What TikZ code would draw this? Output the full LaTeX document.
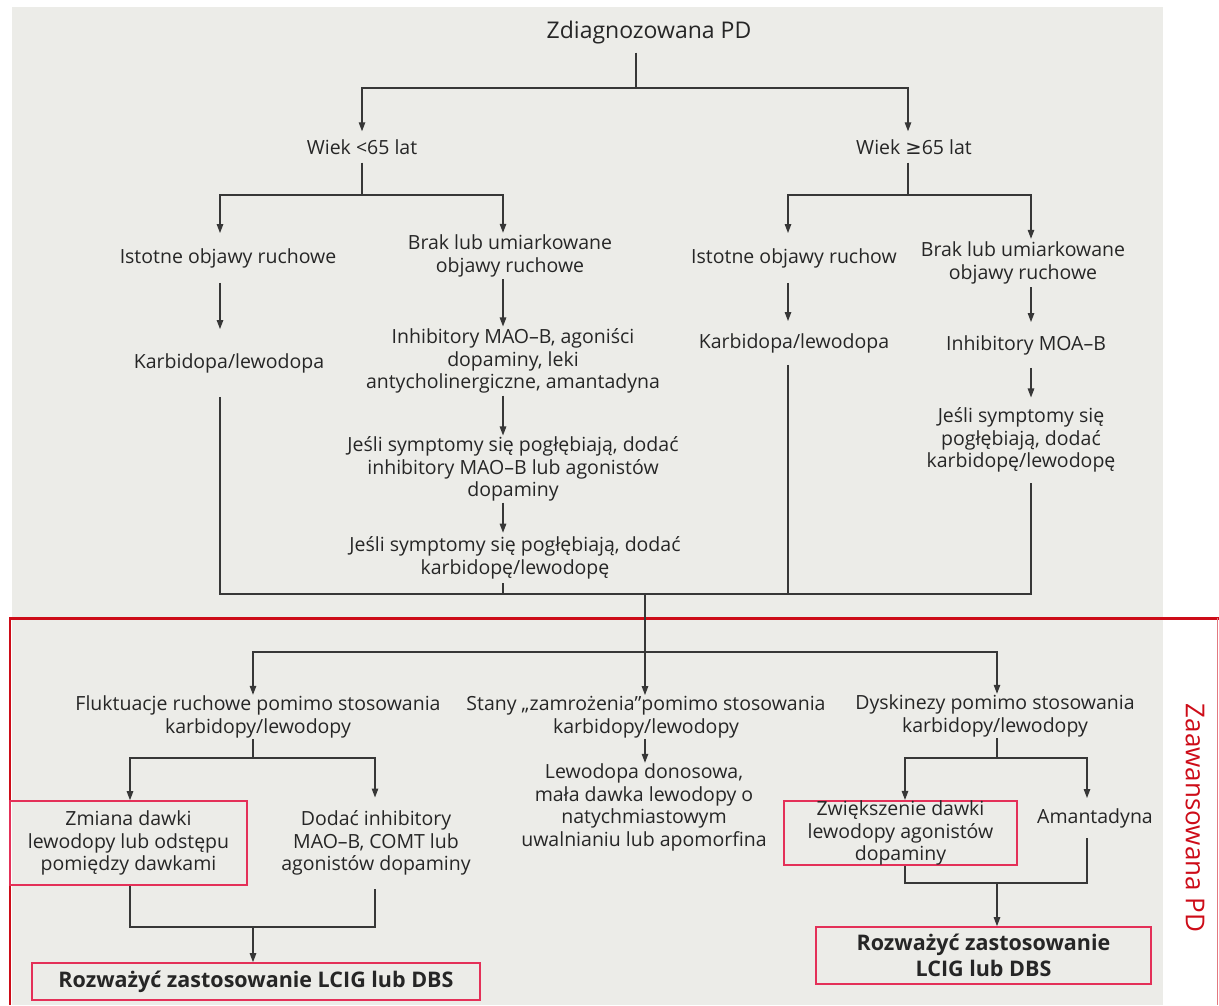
\documentclass[tikz,border=0pt]{standalone}
\usepackage{fontspec}
\setmainfont{Open Sans}
\newfontfamily\symfont{DejaVu Sans}
\usepackage{xcolor}
\usepackage{tikz}
\usetikzlibrary{arrows.meta,positioning}

\definecolor{bggray}{RGB}{236,236,232}
\definecolor{linegray}{RGB}{55,55,55}
\definecolor{framered}{RGB}{205,12,24}
\definecolor{boxpink}{RGB}{228,48,88}

\begin{document}
\begin{tikzpicture}[
    x=1pt, y=-1pt,
    txt/.style={align=center, inner xsep=2pt, inner ysep=8pt, text=black!85, font=\fontsize{19.5}{22.5}\selectfont},
    redbox/.style={txt, draw=boxpink, line width=1.6pt, inner sep=0pt},
    bigbox/.style={redbox, font=\fontsize{21.5}{26}\selectfont\bfseries},
    link/.style={draw=linegray, line width=1.2pt},
    arrow/.style={link, -{Triangle[length=9pt,width=6.5pt]}}
]
    \useasboundingbox (0,0) rectangle (1219,1005);
    \fill [bggray] (12,7) rectangle (1163,1005);
    \draw [framered, line width=3pt] (10,618) -- (1219,618);
    \draw [framered, line width=2pt] (10,617) -- (10,1005);
    \draw [framered!55, line width=1pt] (1217,618) -- (1217,1005);

    \coordinate (j1) at (636,88);
    \coordinate (j2) at (362,195);
    \coordinate (j3) at (908,195);
    \coordinate (j4) at (645,594);
    \coordinate (j5) at (645,652);
    \coordinate (j6) at (253,758);
    \coordinate (j7) at (253,927);
    \coordinate (j8) at (997,758);
    \coordinate (j9) at (997,883);
    \coordinate (k1) at (220,0);
    \coordinate (k2) at (503,0);
    \coordinate (k3) at (788,0);
    \coordinate (k4) at (1031,0);
    \coordinate (k5) at (130,0);
    \coordinate (k6) at (375,0);
    \coordinate (k7) at (905,0);
    \coordinate (k8) at (1087,0);

    \node [txt, font=\fontsize{23}{26}\selectfont] (n1) at (649,33) {Zdiagnozowana PD};
    \node [txt] (n2) at (362,147) {Wiek <65 lat};
    \node [txt] (n3) at (914,147) {Wiek {\symfont ≥}65 lat};
    \node [txt, inner ysep=15pt] (n4) at (228,258) {Istotne objawy ruchowe};
    \node [txt, inner ysep=2pt] (n5) at (510,256) {Brak lub umiarkowane\\objawy ruchowe};
    \node [txt, inner ysep=15pt] (n6) at (794,258) {Istotne objawy ruchow};
    \node [txt, inner ysep=3pt] (n7) at (1023,263) {Brak lub umiarkowane\\objawy ruchowe};
    \node [txt, inner ysep=24pt] (n8) at (229,363) {Karbidopa/lewodopa};
    \node [txt, inner ysep=2pt] (n9) at (513,361) {Inhibitory MAO–B, agoniści\\dopaminy, leki\\antycholinergiczne, amantadyna};
    \node [txt, inner ysep=1pt] (n10) at (513,469) {Jeśli symptomy się pogłębiają, dodać\\inhibitory MAO–B lub agonistów\\dopaminy};
    \node [txt, inner ysep=4pt] (n11) at (515,558) {Jeśli symptomy się pogłębiają, dodać\\karbidopę/lewodopę};
    \node [txt, inner ysep=12pt] (n12) at (794,343) {Karbidopa/lewodopa};
    \node [txt, inner ysep=13pt] (n13) at (1026,345) {Inhibitory MOA–B};
    \node [txt, inner ysep=10pt] (n14) at (1021,440) {Jeśli symptomy się\\pogłębiają, dodać\\karbidopę/lewodopę};

    \node [txt, inner ysep=1pt] (n15) at (258,717) {Fluktuacje ruchowe pomimo stosowania\\karbidopy/lewodopy};
    \node [txt, inner ysep=1pt] (n16) at (646,717) {Stany „zamrożenia”pomimo stosowania\\karbidopy/lewodopy};
    \node [txt, inner ysep=1pt] (n17) at (995,716) {Dyskinezy pomimo stosowania\\karbidopy/lewodopy};
    \node [redbox, minimum width=237pt, minimum height=84pt] (n18) at (128.5,843) {Zmiana dawki\\lewodopy lub odstępu\\pomiędzy dawkami};
    \node [txt, inner ysep=13pt] (n19) at (376,843) {Dodać inhibitory\\MAO–B, COMT lub\\agonistów dopaminy};
    \node [bigbox, minimum width=448pt, minimum height=37pt] (n20) at (256,981.5) {Rozważyć zastosowanie LCIG lub DBS};
    \node [txt, inner ysep=1pt] (n21) at (644,807.5) {Lewodopa donosowa,\\mała dawka lewodopy o\\natychmiastowym\\uwalnianiu lub apomorfina};
    \node [redbox, minimum width=233pt, minimum height=64pt] (n22) at (900.5,833) {Zwiększenie dawki\\lewodopy agonistów\\dopaminy};
    \node [txt, inner ysep=10pt] (n23) at (1095,818) {Amantadyna};
    \node [bigbox, minimum width=335pt, minimum height=57pt] (n24) at (983.5,955.5) {Rozważyć zastosowanie\\LCIG lub DBS};
    \node [rotate=-90, text=framered, font=\fontsize{26}{30}\selectfont] (n25) at (1195,818) {Zaawansowana PD};

    \draw [link] (n1.south -| j1) -- (j1);
    \draw [arrow] (j1) -| (n2.north -| j2);
    \draw [arrow] (j1) -| (n3.north -| j3);
    \draw [link] (n2.south -| j2) -- (j2);
    \draw [arrow] (j2) -| (n4.north -| k1);
    \draw [arrow] (j2) -| (n5.north -| k2);
    \draw [link] (n3.south -| j3) -- (j3);
    \draw [arrow] (j3) -| (n6.north -| k3);
    \draw [arrow] (j3) -| (n7.north -| k4);
    \draw [arrow] (n4.south -| k1) -- (n8.north -| k1);
    \draw [arrow] (n5.south -| k2) -- (n9.north -| k2);
    \draw [arrow] (n9.south -| k2) -- (n10.north -| k2);
    \draw [arrow] (n10.south -| k2) -- (n11.north -| k2);
    \draw [arrow] (n6.south -| k3) -- (n12.north -| k3);
    \draw [arrow] (n7.south -| k4) -- (n13.north -| k4);
    \draw [arrow] (n13.south -| k4) -- (n14.north -| k4);
    \draw [link] (n8.south -| k1) |- (j4) -| (n14.south -| k4);
    \draw [link] (n11.south -| k2) -- (j4 -| k2);
    \draw [link] (n12.south -| k3) -- (j4 -| k3);
    \draw [arrow] (j4) -- (n16.north -| j4);
    \draw [arrow] (j5) -| (n15.north -| j6);
    \draw [arrow] (j5) -| (n17.north -| j8);
    \draw [link] (n15.south -| j6) -- (j6);
    \draw [arrow] (j6) -| (n18.north -| k5);
    \draw [arrow] (j6) -| (n19.north -| k6);
    \draw [link] (n18.south -| k5) |- (j7) -| (n19.south -| k6);
    \draw [arrow] (j7) -- (n20.north -| j7);
    \draw [arrow] (n16.south -| j4) -- (n21.north -| j4);
    \draw [link] (n17.south -| j8) -- (j8);
    \draw [arrow] (j8) -| (n22.north -| k7);
    \draw [arrow] (j8) -| (n23.north -| k8);
    \draw [link] (n22.south -| k7) |- (j9) -| (n23.south -| k8);
    \draw [arrow] (j9) -- (n24.north -| j9);
\end{tikzpicture}
\end{document}
